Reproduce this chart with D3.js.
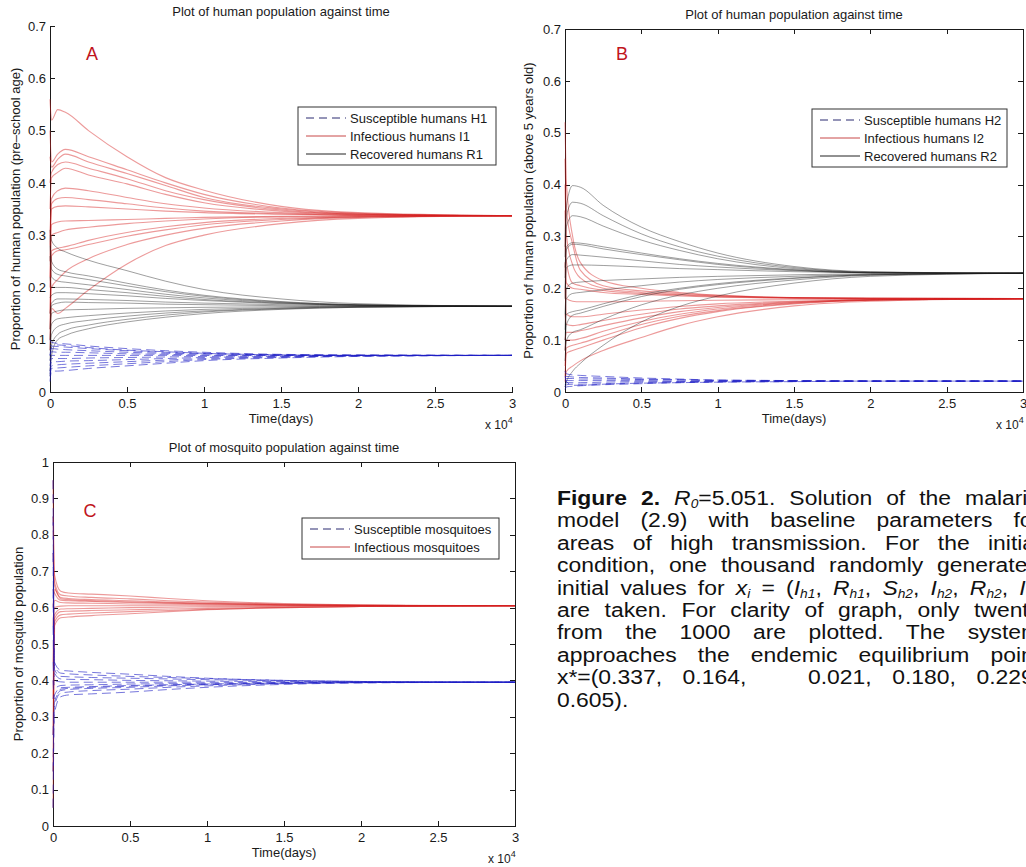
<!DOCTYPE html>
<html>
<head>
<meta charset="utf-8">
<title>Malaria model - solution curves</title>
<style>
  body { margin: 0; overflow: hidden; background: #fff; }
  svg { position: absolute; left: 0; top: 0; }
  text { font-family: "Liberation Sans", Arial, sans-serif; fill: #1a1a1a; }
  .axis text { font-size: 13px; }
  .axis path, .axis line { stroke: #1a1a1a; shape-rendering: crispEdges; }
  .caption {
    position: absolute; left: 557px; top: 487px; width: 422px;
    transform: scaleX(1.145); transform-origin: 0 0;
    font: 20px "Liberation Sans", Arial, sans-serif; color: #111;
  }
  .caption div { height: 22.4px; line-height: 22.4px; overflow: hidden; text-align: justify; text-align-last: justify; }
  .caption div.last { text-align-last: left; }
  .caption sub { font-size: 12px; line-height: 0; vertical-align: -3px; }
</style>
<script src="https://d3js.org/d3.v7.min.js"></script>
</head>
<body>
<svg width="1026" height="867"></svg>
<div class="caption"></div>
<script>
// time samples, in units of 10^4 days
var tGrid = [0, 0.01, 0.05, 0.1, 0.25, 0.5, 0.75, 1, 1.5, 2, 3];
var xTicks = [0, 0.5, 1, 1.5, 2, 2.5, 3];
var yTicksHuman = [0, 0.1, 0.2, 0.3, 0.4, 0.5, 0.6, 0.7];
var yTicksMosq = [0, 0.1, 0.2, 0.3, 0.4, 0.5, 0.6, 0.7, 0.8, 0.9, 1];

// panel A, pre-school humans
var infectedA = [
  [0.56, 0.52, 0.54, 0.535, 0.50, 0.45, 0.41, 0.386, 0.355, 0.343, 0.337],
  [0.50, 0.44, 0.455, 0.464, 0.45, 0.425, 0.40, 0.378, 0.352, 0.342, 0.337],
  [0.45, 0.43, 0.445, 0.455, 0.44, 0.418, 0.395, 0.372, 0.350, 0.341, 0.337],
  [0.40, 0.42, 0.435, 0.44, 0.428, 0.408, 0.385, 0.368, 0.348, 0.340, 0.337],
  [0.35, 0.41, 0.42, 0.428, 0.415, 0.398, 0.378, 0.362, 0.346, 0.340, 0.337],
  [0.30, 0.37, 0.385, 0.39, 0.385, 0.372, 0.360, 0.352, 0.343, 0.339, 0.337],
  [0.28, 0.36, 0.37, 0.372, 0.368, 0.36, 0.352, 0.346, 0.341, 0.338, 0.337],
  [0.25, 0.35, 0.355, 0.356, 0.354, 0.35, 0.346, 0.343, 0.34, 0.338, 0.337],
  [0.22, 0.32, 0.325, 0.327, 0.328, 0.33, 0.332, 0.334, 0.336, 0.337, 0.337],
  [0.20, 0.30, 0.305, 0.31, 0.315, 0.322, 0.327, 0.331, 0.335, 0.336, 0.337],
  [0.15, 0.27, 0.275, 0.278, 0.29, 0.305, 0.316, 0.324, 0.332, 0.335, 0.337],
  [0.12, 0.26, 0.27, 0.272, 0.282, 0.298, 0.31, 0.32, 0.330, 0.335, 0.337],
  [0.10, 0.20, 0.215, 0.23, 0.255, 0.282, 0.30, 0.313, 0.327, 0.334, 0.337],
  [0.08, 0.16, 0.15, 0.16, 0.195, 0.245, 0.28, 0.30, 0.322, 0.332, 0.337]
];
var recoveredA = [
  [0.31, 0.29, 0.275, 0.268, 0.252, 0.232, 0.212, 0.196, 0.178, 0.169, 0.164],
  [0.30, 0.25, 0.235, 0.23, 0.222, 0.208, 0.195, 0.185, 0.173, 0.167, 0.164],
  [0.28, 0.235, 0.225, 0.222, 0.215, 0.203, 0.192, 0.183, 0.172, 0.167, 0.164],
  [0.26, 0.22, 0.212, 0.21, 0.205, 0.196, 0.187, 0.18, 0.171, 0.166, 0.164],
  [0.22, 0.20, 0.20, 0.20, 0.196, 0.19, 0.183, 0.177, 0.17, 0.166, 0.164],
  [0.18, 0.185, 0.19, 0.19, 0.188, 0.184, 0.179, 0.175, 0.169, 0.166, 0.164],
  [0.15, 0.17, 0.178, 0.178, 0.177, 0.175, 0.172, 0.17, 0.167, 0.165, 0.164],
  [0.12, 0.165, 0.17, 0.172, 0.171, 0.17, 0.168, 0.167, 0.165, 0.164, 0.164],
  [0.10, 0.15, 0.155, 0.157, 0.158, 0.16, 0.161, 0.162, 0.163, 0.164, 0.164],
  [0.08, 0.13, 0.14, 0.142, 0.146, 0.151, 0.155, 0.158, 0.161, 0.163, 0.164],
  [0.06, 0.11, 0.125, 0.13, 0.137, 0.145, 0.151, 0.155, 0.16, 0.163, 0.164],
  [0.04, 0.09, 0.11, 0.118, 0.128, 0.139, 0.147, 0.153, 0.159, 0.162, 0.164],
  [0.03, 0.07, 0.10, 0.108, 0.121, 0.134, 0.143, 0.15, 0.158, 0.162, 0.164]
];
var susceptibleA = [
  [0.10, 0.095, 0.093, 0.092, 0.088, 0.083, 0.079, 0.076, 0.072, 0.071, 0.070],
  [0.09, 0.088, 0.087, 0.086, 0.083, 0.079, 0.076, 0.074, 0.071, 0.070, 0.070],
  [0.08, 0.083, 0.082, 0.081, 0.079, 0.076, 0.074, 0.073, 0.071, 0.070, 0.070],
  [0.07, 0.077, 0.076, 0.076, 0.075, 0.073, 0.072, 0.071, 0.070, 0.070, 0.070],
  [0.06, 0.07, 0.07, 0.07, 0.07, 0.07, 0.07, 0.07, 0.07, 0.07, 0.07],
  [0.05, 0.064, 0.064, 0.064, 0.065, 0.066, 0.067, 0.068, 0.069, 0.07, 0.07],
  [0.04, 0.058, 0.058, 0.059, 0.06, 0.062, 0.064, 0.066, 0.068, 0.069, 0.07],
  [0.035, 0.05, 0.052, 0.053, 0.055, 0.058, 0.061, 0.064, 0.067, 0.069, 0.07],
  [0.03, 0.045, 0.046, 0.047, 0.05, 0.054, 0.058, 0.062, 0.066, 0.069, 0.07],
  [0.02, 0.04, 0.04, 0.041, 0.045, 0.05, 0.055, 0.06, 0.065, 0.068, 0.07],
  [0.07, 0.085, 0.09, 0.089, 0.085, 0.08, 0.077, 0.074, 0.071, 0.07, 0.07]
];

// panel B, humans above 5 years old
var infectedB = [
  [0.52, 0.40, 0.30, 0.25, 0.215, 0.20, 0.192, 0.187, 0.182, 0.181, 0.18],
  [0.45, 0.35, 0.285, 0.235, 0.205, 0.195, 0.19, 0.186, 0.182, 0.181, 0.18],
  [0.40, 0.30, 0.245, 0.22, 0.20, 0.192, 0.188, 0.185, 0.182, 0.18, 0.18],
  [0.35, 0.25, 0.21, 0.205, 0.196, 0.19, 0.187, 0.184, 0.181, 0.18, 0.18],
  [0.30, 0.21, 0.20, 0.198, 0.192, 0.188, 0.185, 0.183, 0.181, 0.18, 0.18],
  [0.25, 0.18, 0.175, 0.174, 0.174, 0.175, 0.176, 0.177, 0.178, 0.179, 0.18],
  [0.20, 0.15, 0.145, 0.145, 0.15, 0.158, 0.165, 0.17, 0.175, 0.178, 0.18],
  [0.15, 0.13, 0.128, 0.13, 0.138, 0.15, 0.16, 0.166, 0.174, 0.178, 0.18],
  [0.10, 0.115, 0.115, 0.118, 0.128, 0.143, 0.155, 0.163, 0.173, 0.178, 0.18],
  [0.08, 0.10, 0.10, 0.103, 0.117, 0.136, 0.15, 0.16, 0.172, 0.177, 0.18],
  [0.05, 0.085, 0.09, 0.094, 0.108, 0.13, 0.146, 0.157, 0.171, 0.177, 0.18],
  [0.03, 0.075, 0.08, 0.085, 0.10, 0.124, 0.142, 0.155, 0.17, 0.177, 0.18],
  [0.02, 0.04, 0.05, 0.06, 0.08, 0.105, 0.128, 0.145, 0.166, 0.175, 0.18]
];
var recoveredB = [
  [0.30, 0.36, 0.398, 0.395, 0.36, 0.318, 0.29, 0.268, 0.242, 0.232, 0.229],
  [0.28, 0.34, 0.366, 0.364, 0.34, 0.305, 0.28, 0.262, 0.24, 0.231, 0.229],
  [0.26, 0.32, 0.340, 0.338, 0.32, 0.293, 0.273, 0.257, 0.238, 0.231, 0.229],
  [0.24, 0.28, 0.288, 0.287, 0.28, 0.268, 0.257, 0.248, 0.236, 0.23, 0.229],
  [0.22, 0.275, 0.285, 0.284, 0.276, 0.265, 0.255, 0.246, 0.235, 0.23, 0.229],
  [0.20, 0.255, 0.265, 0.264, 0.26, 0.253, 0.246, 0.241, 0.234, 0.23, 0.229],
  [0.18, 0.24, 0.245, 0.245, 0.244, 0.241, 0.238, 0.236, 0.232, 0.23, 0.229],
  [0.15, 0.20, 0.21, 0.212, 0.215, 0.218, 0.221, 0.223, 0.226, 0.228, 0.229],
  [0.12, 0.18, 0.19, 0.192, 0.197, 0.205, 0.212, 0.217, 0.223, 0.227, 0.229],
  [0.10, 0.15, 0.155, 0.158, 0.17, 0.188, 0.20, 0.209, 0.22, 0.226, 0.229],
  [0.08, 0.13, 0.148, 0.152, 0.165, 0.184, 0.198, 0.207, 0.219, 0.226, 0.229],
  [0.06, 0.10, 0.115, 0.12, 0.14, 0.168, 0.187, 0.20, 0.216, 0.225, 0.229],
  [0.01, 0.02, 0.04, 0.055, 0.09, 0.135, 0.165, 0.185, 0.21, 0.223, 0.229]
];
var susceptibleB = [
  [0.04, 0.035, 0.033, 0.032, 0.03, 0.027, 0.025, 0.023, 0.022, 0.021, 0.021],
  [0.03, 0.03, 0.029, 0.028, 0.027, 0.025, 0.024, 0.023, 0.022, 0.021, 0.021],
  [0.025, 0.026, 0.026, 0.025, 0.025, 0.024, 0.023, 0.022, 0.021, 0.021, 0.021],
  [0.02, 0.022, 0.022, 0.022, 0.022, 0.022, 0.021, 0.021, 0.021, 0.021, 0.021],
  [0.015, 0.018, 0.018, 0.018, 0.019, 0.02, 0.02, 0.021, 0.021, 0.021, 0.021],
  [0.01, 0.014, 0.015, 0.015, 0.016, 0.018, 0.019, 0.02, 0.021, 0.021, 0.021],
  [0.005, 0.01, 0.011, 0.012, 0.014, 0.016, 0.018, 0.019, 0.02, 0.021, 0.021],
  [0.03, 0.02, 0.013, 0.013, 0.015, 0.017, 0.018, 0.019, 0.02, 0.021, 0.021]
];

// panel C, mosquitoes
var infectedC = [
  [0.95, 0.69, 0.645, 0.64, 0.637, 0.632, 0.625, 0.619, 0.611, 0.607, 0.605],
  [0.85, 0.67, 0.635, 0.632, 0.628, 0.624, 0.619, 0.615, 0.609, 0.606, 0.605],
  [0.75, 0.66, 0.628, 0.625, 0.622, 0.619, 0.615, 0.612, 0.608, 0.606, 0.605],
  [0.65, 0.64, 0.62, 0.619, 0.617, 0.614, 0.612, 0.61, 0.607, 0.606, 0.605],
  [0.55, 0.62, 0.614, 0.613, 0.612, 0.61, 0.609, 0.608, 0.606, 0.605, 0.605],
  [0.45, 0.60, 0.604, 0.605, 0.605, 0.605, 0.605, 0.605, 0.605, 0.605, 0.605],
  [0.35, 0.58, 0.596, 0.597, 0.598, 0.60, 0.601, 0.602, 0.603, 0.604, 0.605],
  [0.25, 0.57, 0.589, 0.59, 0.592, 0.594, 0.596, 0.598, 0.601, 0.603, 0.605],
  [0.15, 0.56, 0.58, 0.582, 0.585, 0.589, 0.592, 0.595, 0.60, 0.603, 0.605],
  [0.05, 0.55, 0.572, 0.574, 0.578, 0.583, 0.589, 0.594, 0.60, 0.603, 0.605],
  [0.60, 0.65, 0.624, 0.622, 0.619, 0.616, 0.613, 0.611, 0.608, 0.606, 0.605]
];
var susceptibleC = [
  [0.05, 0.31, 0.355, 0.36, 0.363, 0.368, 0.375, 0.381, 0.389, 0.393, 0.395],
  [0.15, 0.33, 0.365, 0.368, 0.372, 0.376, 0.381, 0.385, 0.391, 0.394, 0.395],
  [0.25, 0.34, 0.372, 0.375, 0.378, 0.381, 0.385, 0.388, 0.392, 0.394, 0.395],
  [0.35, 0.36, 0.38, 0.381, 0.383, 0.386, 0.388, 0.39, 0.393, 0.394, 0.395],
  [0.45, 0.38, 0.386, 0.387, 0.388, 0.39, 0.391, 0.392, 0.394, 0.395, 0.395],
  [0.55, 0.40, 0.396, 0.395, 0.395, 0.395, 0.395, 0.395, 0.395, 0.395, 0.395],
  [0.65, 0.42, 0.404, 0.403, 0.402, 0.40, 0.399, 0.398, 0.397, 0.396, 0.395],
  [0.75, 0.43, 0.411, 0.41, 0.408, 0.406, 0.404, 0.402, 0.399, 0.397, 0.395],
  [0.85, 0.44, 0.42, 0.418, 0.415, 0.411, 0.408, 0.405, 0.40, 0.397, 0.395],
  [0.95, 0.45, 0.428, 0.426, 0.422, 0.417, 0.411, 0.406, 0.40, 0.397, 0.395],
  [0.40, 0.35, 0.376, 0.378, 0.381, 0.384, 0.387, 0.389, 0.392, 0.394, 0.395]
];

var legendA = ["Susceptible humans H1", "Infectious humans I1", "Recovered humans R1"];
var legendB = ["Susceptible humans H2", "Infectious humans I2", "Recovered humans R2"];
var legendC = ["Susceptible mosquitoes", "Infectious mosquitoes"];

var captionLines = [
  "<b>Figure 2.</b> <i>R<sub>0</sub></i>=5.051. Solution of the malaria",
  "model (2.9) with baseline parameters for",
  "areas of high transmission. For the initial",
  "condition, one thousand randomly generated",
  "initial values for <i>x<sub>i</sub></i> = (<i>I<sub>h1</sub></i>, <i>R<sub>h1</sub></i>, <i>S<sub>h2</sub></i>, <i>I<sub>h2</sub></i>, <i>R<sub>h2</sub></i>, <i>I<sub>v</sub></i>)",
  "are taken. For clarity of graph, only twenty",
  "from the 1000 are plotted. The system",
  "approaches the endemic equilibrium point",
  "x*=(0.337, 0.164,&nbsp;&nbsp; 0.021, 0.180, 0.229,",
  "0.605)."
];

var styles = {
  sus: { color: "#1c1cc4", width: 1, opacity: 0.6, dash: "9,5" },
  inf: { color: "#d42020", width: 1.1, opacity: 0.45, dash: null },
  rec: { color: "#1a1a1a", width: 1, opacity: 0.42, dash: null }
};
var legendStyles = {
  sus: { color: "#2a2a70", dash: "8,5" },
  inf: { color: "#c84848", dash: null },
  rec: { color: "#222", dash: null }
};

var svg = d3.select("svg");

function drawPanel(p) {
  var g = svg.append("g");
  var x = d3.scaleLinear().domain([0, 3]).range([p.left, p.right]);
  var y = d3.scaleLinear().domain([0, p.yMax]).range([p.bottom, p.top]);
  var fmt = function(d) { return String(d); };

  // axes go under the curves, like matlab
  g.append("g").attr("class", "axis")
    .attr("transform", "translate(0," + p.bottom + ")")
    .call(d3.axisBottom(x).tickValues(xTicks).tickFormat(fmt).tickSizeInner(-5).tickSizeOuter(0).tickPadding(7));

  g.append("g").attr("class", "axis")
    .attr("transform", "translate(" + p.left + ",0)")
    .call(d3.axisLeft(y).tickValues(p.yTicks).tickFormat(fmt).tickSizeInner(-5).tickSizeOuter(0).tickPadding(4));

  if (p.box) {
    g.append("g").attr("class", "axis")
      .attr("transform", "translate(0," + p.top + ")")
      .call(d3.axisTop(x).tickValues(xTicks).tickFormat("").tickSizeInner(-5).tickSizeOuter(0));
    g.append("g").attr("class", "axis")
      .attr("transform", "translate(" + p.right + ",0)")
      .call(d3.axisRight(y).tickValues(p.yTicks).tickFormat("").tickSizeInner(-5).tickSizeOuter(0));
  }

  var line = d3.line()
    .x(function(d, i) { return x(tGrid[i]); })
    .y(function(d) { return y(d); })
    .curve(d3.curveMonotoneX);

  p.series.forEach(function(s) {
    var st = styles[s.kind];
    g.append("g").selectAll("path")
      .data(s.runs)
      .enter()
      .append("path")
      .attr("d", line)
      .attr("fill", "none")
      .attr("stroke", st.color)
      .attr("stroke-width", st.width)
      .attr("stroke-opacity", st.opacity)
      .attr("stroke-dasharray", st.dash);
  });

  // title, labels
  g.append("text").attr("x", (p.left + p.right) / 2).attr("y", p.top - 10)
    .attr("text-anchor", "middle").style("font-size", "13px").text(p.title);

  g.append("text").attr("x", (p.left + p.right) / 2).attr("y", p.bottom + 31)
    .attr("text-anchor", "middle").style("font-size", "13px").text("Time(days)");

  var ex = g.append("text").attr("x", p.right - 27).attr("y", p.bottom + 37).style("font-size", "12px");
  ex.append("tspan").text("x 10");
  ex.append("tspan").attr("dy", -6).style("font-size", "9px").text("4");

  g.append("text")
    .attr("transform", "translate(" + p.ylabelX + "," + ((p.top + p.bottom) / 2) + ") rotate(-90)")
    .attr("text-anchor", "middle").style("font-size", "13px").text(p.ylabel);

  g.append("text").attr("x", p.letterX).attr("y", p.letterY)
    .attr("text-anchor", "middle").style("font-size", "18px").style("fill", "#c0141c").text(p.letter);

  // legend
  var lg = p.legend;
  g.append("rect").attr("x", lg.x).attr("y", lg.y).attr("width", lg.w).attr("height", lg.h)
    .attr("fill", "#fff").attr("stroke", "#333").attr("stroke-width", 1);
  lg.items.forEach(function(label, i) {
    var ls = legendStyles[lg.kinds[i]];
    var yy = lg.y + 11 + i * 18;
    g.append("line").attr("x1", lg.x + 8).attr("x2", lg.x + 48).attr("y1", yy).attr("y2", yy)
      .attr("stroke", ls.color).attr("stroke-width", 1).attr("stroke-dasharray", ls.dash);
    g.append("text").attr("x", lg.x + 52).attr("y", yy + 4.5).style("font-size", "13px").text(label);
  });
}

drawPanel({
  left: 50, right: 512, top: 26, bottom: 392, yMax: 0.7, yTicks: yTicksHuman, box: false,
  title: "Plot of human population against time",
  ylabel: "Proportion of human population (pre\u2013school age)", ylabelX: 20,
  letter: "A", letterX: 92, letterY: 60,
  series: [{ kind: "inf", runs: infectedA }, { kind: "rec", runs: recoveredA }, { kind: "sus", runs: susceptibleA }],
  legend: { x: 298, y: 107, w: 198, h: 58, items: legendA, kinds: ["sus", "inf", "rec"] }
});

drawPanel({
  left: 565, right: 1023, top: 29, bottom: 392, yMax: 0.7, yTicks: yTicksHuman, box: true,
  title: "Plot of human population against time",
  ylabel: "Proportion of human population (above 5 years old)", ylabelX: 533,
  letter: "B", letterX: 622, letterY: 60,
  series: [{ kind: "inf", runs: infectedB }, { kind: "rec", runs: recoveredB }, { kind: "sus", runs: susceptibleB }],
  legend: { x: 812, y: 109, w: 195, h: 58, items: legendB, kinds: ["sus", "inf", "rec"] }
});

drawPanel({
  left: 53, right: 515, top: 462, bottom: 826, yMax: 1, yTicks: yTicksMosq, box: true,
  title: "Plot of mosquito population against time",
  ylabel: "Proportion of mosquito population", ylabelX: 23,
  letter: "C", letterX: 90, letterY: 517,
  series: [{ kind: "inf", runs: infectedC }, { kind: "sus", runs: susceptibleC }],
  legend: { x: 302, y: 518, w: 197, h: 41, items: legendC, kinds: ["sus", "inf"] }
});

d3.select(".caption").selectAll("div")
  .data(captionLines)
  .enter()
  .append("div")
  .attr("class", function(d, i) { return i === captionLines.length - 1 ? "last" : null; })
  .html(function(d) { return d; });
</script>
</body>
</html>
